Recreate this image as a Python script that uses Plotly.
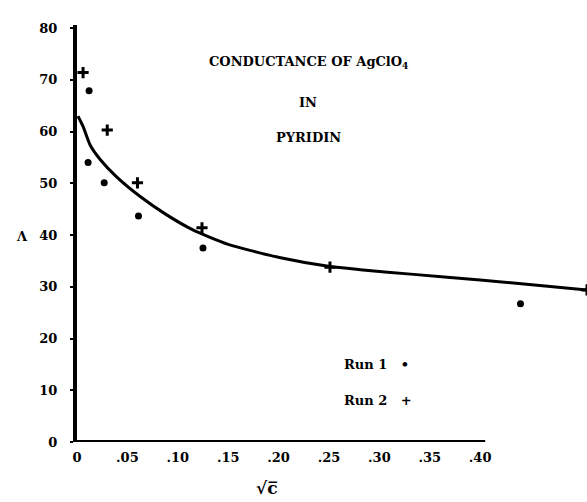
import plotly.graph_objects as go

# Smoothed conductance curve, equivalent conductance vs sqrt(c)
curve_sqrt_c = [0.001, 0.006, 0.013, 0.023, 0.039, 0.063, 0.089, 0.115, 0.150,
                0.202, 0.251, 0.281, 0.334, 0.400, 0.467, 0.506]
curve_lambda = [63.0, 61.0, 57.4, 54.6, 51.3, 47.4, 43.9, 41.0, 38.2,
                35.6, 33.9, 33.3, 32.4, 31.3, 30.1, 29.4]

# Measured points, two runs
run1_sqrt_c = [0.012, 0.011, 0.027, 0.061, 0.125, 0.440]
run1_lambda = [67.9, 54.0, 50.1, 43.7, 37.5, 26.7]
run2_sqrt_c = [0.006, 0.030, 0.060, 0.124, 0.251, 0.506]
run2_lambda = [71.4, 60.3, 50.1, 41.4, 33.8, 29.4]

x_tickvals = [0, 0.05, 0.10, 0.15, 0.20, 0.25, 0.30, 0.35, 0.40]
x_ticktext = ["0", ".05", ".10", ".15", ".20", ".25", ".30", ".35", ".40"]
y_tickvals = [0, 10, 20, 30, 40, 50, 60, 70, 80]
y_ticktext = ["0", "10", "20", "30", "40", "50", "60", "70", "80"]

FONT = "DejaVu Serif"
INK = "#000000"

fig = go.Figure()

fig.add_trace(go.Scatter(
    x=curve_sqrt_c, y=curve_lambda, mode="lines",
    line=dict(color=INK, width=3, shape="spline", smoothing=0.6),
    showlegend=False, hoverinfo="skip",
))
fig.add_trace(go.Scatter(
    x=run1_sqrt_c, y=run1_lambda, mode="markers", name="Run 1",
    marker=dict(symbol="circle", size=7, color=INK),
    showlegend=False,
))
fig.add_trace(go.Scatter(
    x=run2_sqrt_c, y=run2_lambda, mode="markers", name="Run 2",
    marker=dict(symbol="cross-thin", size=8, color=INK,
                line=dict(color=INK, width=3)),
    showlegend=False,
))

# horizontal axis line stops at the last labelled tick
fig.add_shape(type="line", xref="x", yref="y",
              x0=0, x1=0.405, y0=0, y1=0,
              line=dict(color=INK, width=4))

fig.update_xaxes(
    range=[0, 0.506], showline=False, showgrid=False, zeroline=False,
    tickvals=x_tickvals, ticktext=x_ticktext, ticks="",
    ticklabelstandoff=6,
    tickfont=dict(family=FONT, size=13, color=INK, weight="bold"),
)
fig.update_yaxes(
    range=[0, 80.6], showline=True, linecolor=INK, linewidth=4,
    showgrid=False, zeroline=False,
    tickvals=y_tickvals, ticktext=y_ticktext,
    ticks="outside", ticklen=3, tickwidth=2, tickcolor=INK,
    ticklabelstandoff=10,
    tickfont=dict(family=FONT, size=13, color=INK, weight="bold"),
)

title_font = dict(family=FONT, size=13, color=INK, weight="bold")
annotations = [
    dict(text="CONDUCTANCE OF AgClO<sub>4</sub>", x=0.453, y=0.911),
    dict(text="IN", x=0.453, y=0.815),
    dict(text="PYRIDIN", x=0.453, y=0.731),
    dict(text="Run 1   \u2022", x=0.52, y=0.185, xanchor="left"),
    dict(text="Run 2   +", x=0.52, y=0.10, xanchor="left"),
    dict(text="\u039b", x=-0.108, y=0.492),
    dict(text="\u221ac\u0305", x=0.3725, y=-0.11, font=dict(family=FONT, size=17, color=INK, weight="bold")),
]
for a in annotations:
    a.setdefault("font", title_font)
    a.setdefault("xanchor", "center")
    fig.add_annotation(xref="paper", yref="paper", showarrow=False,
                       yanchor="middle", **a)

fig.update_layout(
    width=587, height=502,
    margin=dict(l=77, r=0, t=25, b=60),
    paper_bgcolor="white", plot_bgcolor="white",
    showlegend=False,
)

fig.write_html("out.html")
